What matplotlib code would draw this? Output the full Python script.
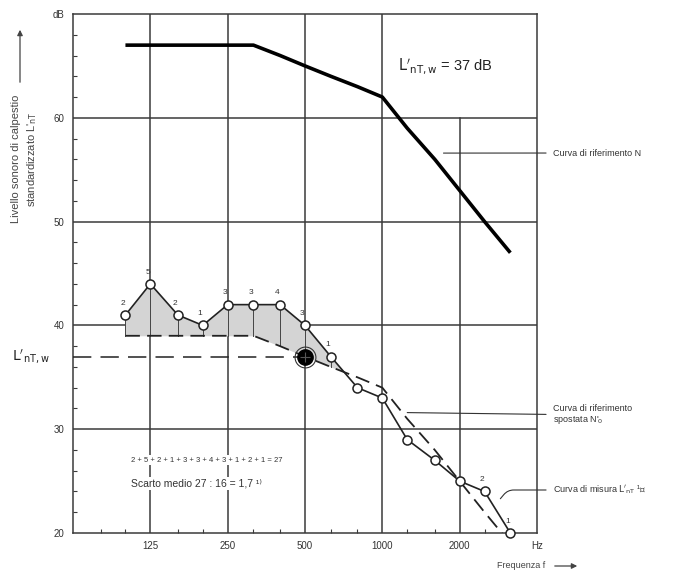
import numpy as np
import matplotlib
matplotlib.use("Agg")
import matplotlib.pyplot as plt

plt.rcParams['font.family'] = ['Liberation Sans', 'DejaVu Sans']

# third-octave bands 100 .. 3150 Hz
freqs = [100, 125, 160, 200, 250, 315, 400, 500, 630, 800, 1000, 1250, 1600, 2000, 2500, 3150]
# reference curve N (+5 dB view) and shifted reference N'0
ref_curve = [67, 67, 67, 67, 67, 67, 66, 65, 64, 63, 62, 59, 56, 53, 50, 47]
ref_shifted = [39, 39, 39, 39, 39, 39, 38, 37, 36, 35, 34, 31, 28, 25, 22, 19]
# measured L'nT
measured = [41, 44, 41, 40, 42, 42, 42, 40, 37, 34, 33, 29, 27, 25, 24, 20]
deviation_labels = ["2", "5", "2", "1", "3", "3", "4", "3", "1", "", "", "", "", "", "2", "1"]
lntw = 37

xticks = [125, 250, 500, 1000, 2000, 4000]
xticklabels = ["125", "250", "500", "1000", "2000", "Hz"]
yticks = [20, 30, 40, 50, 60, 70]
yticklabels = ["20", "30", "40", "50", "60", "dB"]
minor_x = [80, 100, 160, 200, 315, 400, 630, 800, 1250, 1600, 2500, 3150]

f = np.array(freqs)
meas = np.array(measured)
rs = np.array(ref_shifted)

fig = plt.figure(figsize=(6.86, 5.75), dpi=100)
ax = fig.add_axes([73 / 686, 1 - 533 / 575, 464 / 686, 519 / 575])
ax.set_xscale('log', base=2)
ax.set_xlim(62.5, 4000)
ax.set_ylim(20, 70)

grid_c = '#3a3a3a'
for fx in [125, 250, 500, 1000]:
    ax.axvline(fx, color=grid_c, lw=1.1, zorder=1)
ax.plot([2000, 2000], [20, 60], color=grid_c, lw=1.1, zorder=1)
for yv in [30, 40, 50, 60]:
    ax.axhline(yv, color=grid_c, lw=1.1, zorder=1)
for s in ax.spines.values():
    s.set_color(grid_c)
    s.set_linewidth(1.1)

ax.set_xticks(xticks)
ax.set_xticklabels(xticklabels)
ax.set_xticks(minor_x, minor=True)
ax.set_yticks(yticks)
ax.set_yticklabels(yticklabels)
ax.set_yticks(np.arange(20, 71, 2), minor=True)
ax.tick_params(which='major', length=0, labelsize=7, colors='#333333', pad=6)
ax.tick_params(which='minor', direction='in', length=3, width=0.8, color=grid_c)
ax.xaxis.set_minor_formatter(plt.NullFormatter())

# shaded unfavourable deviations
mask = (f <= 800)
ax.fill_between(f[mask], meas[mask], rs[mask], where=meas[mask] >= rs[mask],
                interpolate=True, color='#d4d4d4', zorder=2, lw=0)
for fx, m, r in zip(freqs, measured, ref_shifted):
    if m > r and fx <= 630:
        ax.plot([fx, fx], [r, m], color='#444444', lw=0.7, zorder=3)

# reference curve
ax.plot(freqs, ref_curve, color='black', lw=2.6, zorder=4, solid_capstyle='butt')
# shifted reference curve
ax.plot(freqs, ref_shifted, color='#222222', lw=1.3, ls=(0, (8, 4)), zorder=4, clip_on=True)
# measured curve
ax.plot(freqs, measured, color='#222222', lw=1.2, marker='o', ms=6.5,
        mfc='white', mec='#222222', mew=1.1, zorder=5, clip_on=False)
for fx, m, lab in zip(freqs, measured, deviation_labels):
    if lab:
        ax.annotate(lab, (fx, m), textcoords='offset points', xytext=(-2, 6),
                    fontsize=6, color='#333333', ha='center', va='bottom', zorder=6)

# L'nT,w line and marker
ax.plot([62.5, 500], [lntw, lntw], color='#222222', lw=1.1, ls=(0, (12, 6)), zorder=3)
ax.plot([500], [lntw], marker='o', ms=11, color='black', zorder=7)
ax.plot([500], [lntw], marker='o', ms=15, mfc='none', mec='#333333', mew=0.8, zorder=7)
ax.plot([500], [lntw], marker='+', ms=7, color='#555555', mew=0.8, zorder=8)

ax.text(1150, 65, r"$\mathrm{L'}_{\mathrm{nT,w}}$ = 37 dB", fontsize=10.5, color='#222222',
        ha='left', va='center')

ax.text(105, 27.0, "2 + 5 + 2 + 1 + 3 + 3 + 4 + 3 + 1 + 2 + 1 = 27", fontsize=5.5,
        color='#333333', ha='left', va='center', zorder=6,
        bbox=dict(fc='white', ec='none', pad=1))
ax.text(105, 24.8, "Scarto medio 27 : 16 = 1,7 ¹⁾", fontsize=7.5,
        color='#333333', ha='left', va='center', zorder=6,
        bbox=dict(fc='white', ec='none', pad=1))

# right-hand labels
ann_kw = dict(textcoords='figure pixels', ha='left', va='center', fontsize=6.5,
              color='#333333', annotation_clip=False)
ax.annotate("Curva di riferimento N", xy=(1730, 56.6), xytext=(553, 575 - 153),
            arrowprops=dict(arrowstyle='-', lw=0.8, color='#333333', shrinkA=3, shrinkB=0),
            **ann_kw)
ax.annotate("Curva di riferimento\nspostata N'$_0$", xy=(1250, 31.6), xytext=(553, 575 - 415),
            arrowprops=dict(arrowstyle='-', lw=0.8, color='#333333', shrinkA=3, shrinkB=0),
            **ann_kw)
ax.annotate(r"Curva di misura $\mathrm{L'}_{\mathrm{nT}}$ ¹⁾", xy=(2880, 23.3), xytext=(553, 575 - 490),
            arrowprops=dict(arrowstyle='-', lw=0.8, color='#333333', shrinkA=3, shrinkB=0,
                            connectionstyle='angle,angleA=0,angleB=50,rad=6'),
            **ann_kw)

# left L'nT,w label
fig.text(12 / 686, 1 - 357 / 575, r"$\mathrm{L'}_{\mathrm{nT,w}}$", fontsize=10,
         color='#222222', ha='left', va='center')

# y axis label with arrow
fig.text(25 / 686, 1 - 95 / 575, "Livello sonoro di calpestio\nstandardizzato L'$_{\\mathrm{nT}}$",
         rotation=90, fontsize=8, color='#444444', ha='center', va='top',
         multialignment='center', linespacing=1.5)
fig.add_artist(matplotlib.patches.FancyArrowPatch(
    (20 / 686, 1 - 85 / 575), (20 / 686, 1 - 27 / 575), transform=fig.transFigure,
    arrowstyle='-|>', mutation_scale=8, lw=0.9, color='#444444'))

# x axis label with arrow
fig.text(497 / 686, 1 - 566 / 575, "Frequenza f", fontsize=6.5, color='#444444',
         ha='left', va='center')
fig.add_artist(matplotlib.patches.FancyArrowPatch(
    (552 / 686, 1 - 566 / 575), (580 / 686, 1 - 566 / 575), transform=fig.transFigure,
    arrowstyle='-|>', mutation_scale=8, lw=0.9, color='#444444'))

fig.savefig('out.png', dpi=100)
